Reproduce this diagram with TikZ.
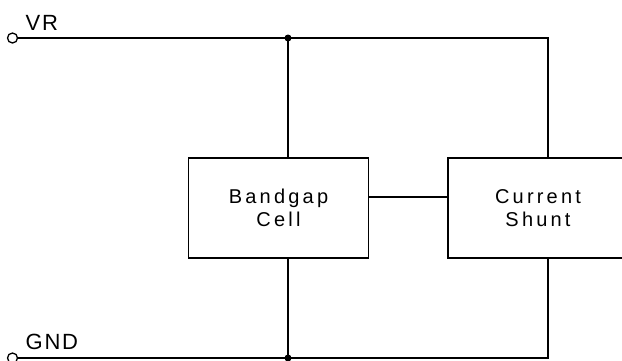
\documentclass[tikz,border=0pt]{standalone}
\usepackage{fontspec}
\setmainfont{Liberation Sans}
\newfontfamily\blockfont[LetterSpace=16]{Liberation Sans}
\newfontfamily\pinfont[LetterSpace=8]{Liberation Sans}
\usetikzlibrary{calc}
\usetikzlibrary{positioning}

\begin{document}
\begin{tikzpicture}[x=1pt, y=-1pt, line width=1.4pt,
  block/.style={draw, minimum width=180pt, minimum height=100pt, align=center, font=\blockfont\fontsize{20}{23.5}\selectfont},
  term/.style={circle, draw, line width=1.3pt, inner sep=0pt, minimum size=10pt, fill=white},
  junc/.style={circle, fill, inner sep=0pt, minimum size=7pt},
  pin/.style={anchor=base west, inner sep=0pt, font=\pinfont\fontsize{22}{26}\selectfont}]
\useasboundingbox (0,0) rectangle (622,360);

\node[block] (bg) at (278.5,208) {Bandgap\\Cell};
\node[block] (cs) at (538,208) {Current\\Shunt};

\node[term] (vr) at (12.5,38) {};
\node[term] (gnd) at (12.5,358) {};
\node[pin] (vrlbl) at (25,30) {VR};
\node[pin] (gndlbl) at (25,349) {GND};

\node[junc] (jt) at (288,38) {};
\node[junc] (jb) at (288,358) {};
\coordinate (rt) at (548,38);
\coordinate (rb) at (548,358);

% supply rail
\draw (vr) -- (jt.center) -- (rt) -- (rt |- cs.north);
\draw (jt.center) -- (jt |- bg.north);
% ground rail
\draw (gnd) -- (jb.center) -- (rb) -- (rb |- cs.south);
\draw (jb.center) -- (jb |- bg.south);
% link between blocks
\draw ([yshift=11pt]bg.east) -- ([yshift=11pt]cs.west);

\end{tikzpicture}
\end{document}
